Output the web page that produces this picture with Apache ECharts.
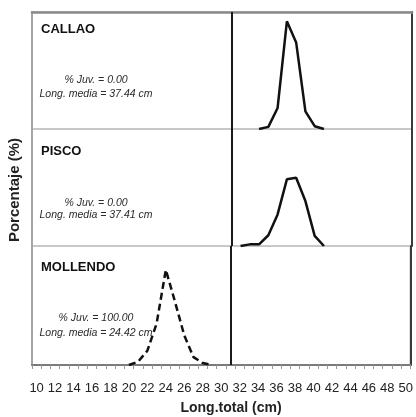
<!DOCTYPE html>
<html><head><meta charset="utf-8">
<script src="https://cdn.jsdelivr.net/npm/echarts@6/dist/echarts.min.js"></script>
<style>html,body{margin:0;padding:0;background:#fff}#c{width:416px;height:417px}</style>
</head><body><div id="c"></div>
<script>
// Categories: total length (cm)
const lengthCm = ['10','11','12','13','14','15','16','17','18','19','20','21','22','23','24','25','26','27','28','29','30',
  '31','32','33','34','35','36','37','38','39','40','41','42','43','44','45','46','47','48','49','50'];
// Frequency (%) by length, per port
const callaoLen = [34, 35, 36, 37, 38, 39, 40, 41];
const callaoPct = [0, 0.9, 9, 46, 37, 7.5, 1.2, 0];
const piscoLen = [32, 33, 34, 35, 36, 37, 38, 39, 40, 41];
const piscoPct = [0, 0.7, 0.7, 4.6, 13.5, 28.5, 29.2, 19.2, 4.3, 0];
const mollendoLen = [20, 21, 22, 23, 24, 25, 26, 27, 28, 29];
const mollendoPct = [0, 1.4, 6, 17.4, 40, 26.5, 12.4, 3.3, 0.8, 0];
const panelNames = ['CALLAO', 'PISCO', 'MOLLENDO'];
const juvPct = ['0.00', '0.00', '100.00'];
const meanLen = ['37.44', '37.41', '24.42'];
const splitLength = '31';

const lens = [callaoLen, piscoLen, mollendoLen];
const pcts = [callaoPct, piscoPct, mollendoPct];

const gridTops = [12, 129, 246];
const gridHeights = [117, 117, 119];
const narrow = "'Liberation Sans Narrow','Arial Narrow','Liberation Sans',Arial,sans-serif";
const sans = "'Liberation Sans',Arial,Helvetica,sans-serif";

const grids = [], xAxes = [], yAxes = [], series = [], graphics = [];
for (let i = 0; i < 3; i++) {
  grids.push({left: 32, width: 380, top: gridTops[i], height: gridHeights[i], show: true,
    borderColor: '#c8c8c8', borderWidth: 2, backgroundColor: '#fff'});
  const isBottom = i === 2, isTop = i === 0;
  xAxes.push({gridIndex: i, type: 'category', data: lengthCm, boundaryGap: true,
    position: isTop ? 'top' : 'bottom',
    axisLine: {show: isTop || isBottom, onZero: false, lineStyle: {color: isTop ? '#8a8a8a' : '#7a7a7a', width: isTop ? 2.5 : 2}},
    axisTick: {show: isBottom, interval: 0, length: 4, lineStyle: {color: '#999', width: 1}},
    axisLabel: {show: isBottom, interval: 1, margin: 17, fontFamily: narrow, fontSize: 13, color: '#222'},
    splitLine: {show: false}});
}
for (let i = 0; i < 3; i++) {
  yAxes.push({gridIndex: i, type: 'value', min: 0, max: 50, position: 'left',
    axisLine: {show: true, onZero: false, lineStyle: {color: '#9a9a9a', width: 1.5}},
    axisTick: {show: false}, axisLabel: {show: false}, splitLine: {show: false}});
}
for (let i = 0; i < 3; i++) {
  yAxes.push({gridIndex: i, type: 'value', min: 0, max: 50, position: 'right',
    axisLine: {show: true, onZero: false, lineStyle: {color: '#3a3a3a', width: 2}},
    axisTick: {show: false}, axisLabel: {show: false}, splitLine: {show: false}});
}
for (let i = 0; i < 3; i++) {
  series.push({type: 'line', name: panelNames[i], xAxisIndex: i, yAxisIndex: i,
    data: lens[i].map((x, k) => [String(x), pcts[i][k]]),
    symbol: 'none', smooth: false,
    lineStyle: {color: '#111', width: 2.5, type: i === 2 ? [7, 4] : 'solid'},
    markLine: {silent: true, symbol: ['none', 'none'], label: {show: false},
      lineStyle: {color: '#1a1a1a', width: 2, type: 'solid'},
      data: [{xAxis: splitLength}]},
    z: 3});
}
const nameY = [29, 151, 267];
const juvY = [80, 203, 318];
const meanY = [94, 215, 333];
for (let i = 0; i < 3; i++) {
  graphics.push({type: 'text', x: 41, y: nameY[i], z: 100,
    style: {text: panelNames[i], font: 'bold 13px ' + sans, fill: '#111', textAlign: 'left', textVerticalAlign: 'middle'}});
  graphics.push({type: 'text', x: 96, y: juvY[i], z: 100,
    style: {text: '% Juv. = ' + juvPct[i], font: 'italic 10.5px ' + sans, fill: '#2a2a2a', textAlign: 'center', textVerticalAlign: 'middle'}});
  graphics.push({type: 'text', x: 96, y: meanY[i], z: 100,
    style: {text: 'Long. media = ' + meanLen[i] + ' cm', font: 'italic 10.5px ' + sans, fill: '#2a2a2a', textAlign: 'center', textVerticalAlign: 'middle'}});
}
graphics.push({type: 'text', x: 15, y: 190, rotation: Math.PI / 2, z: 100,
  style: {text: 'Porcentaje (%)', font: 'bold 15px ' + sans, fill: '#222', textAlign: 'center', textVerticalAlign: 'middle'}});
graphics.push({type: 'text', x: 231, y: 408, z: 100,
  style: {text: 'Long.total (cm)', font: 'bold 14px ' + sans, fill: '#222', textAlign: 'center', textVerticalAlign: 'middle'}});

const chart = echarts.init(document.getElementById('c'), null, {renderer: 'canvas'});
chart.setOption({animation: false, backgroundColor: '#fff', grid: grids, xAxis: xAxes, yAxis: yAxes,
  series: series, graphic: graphics});
</script></body></html>
